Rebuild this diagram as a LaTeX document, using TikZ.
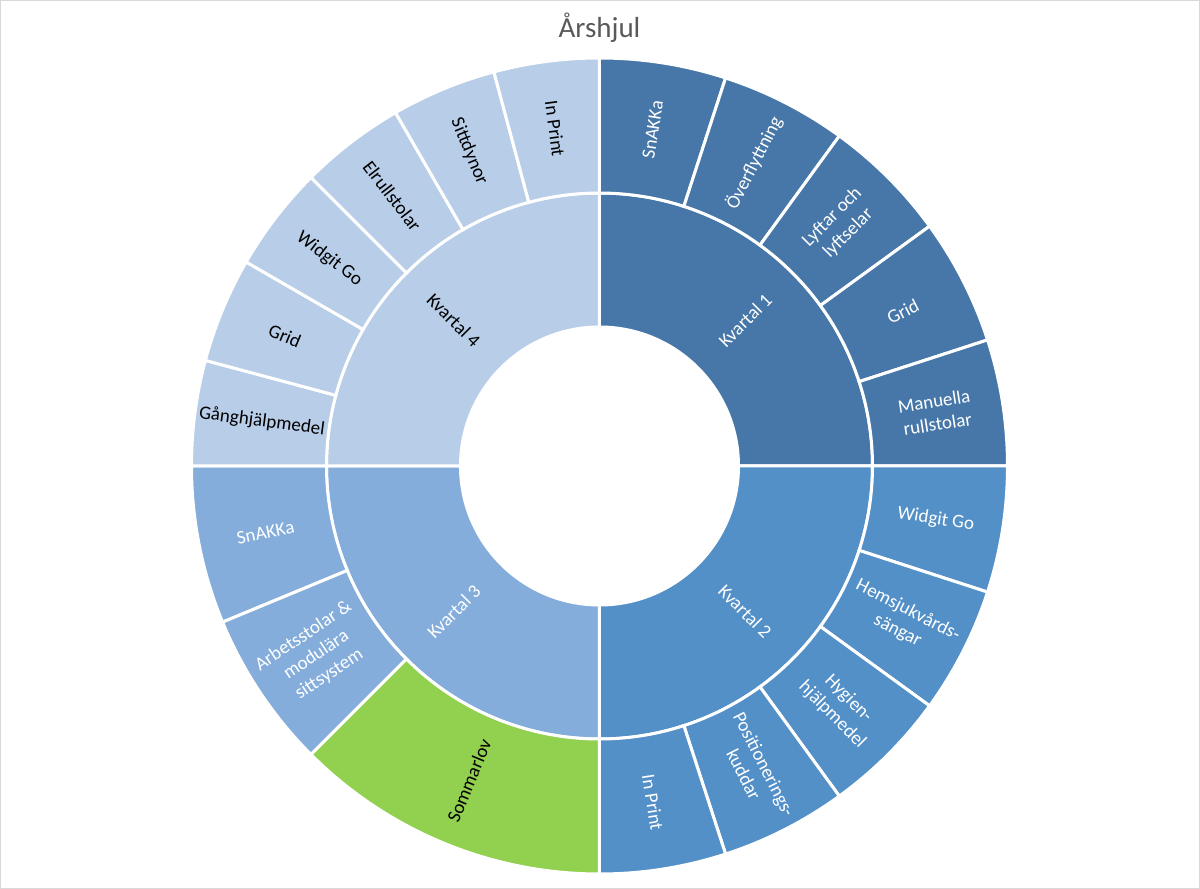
\documentclass[tikz,border=0pt]{standalone}
\usepackage{fontspec}
\setmainfont{Carlito}
\usepackage{tikz}
\usepackage{xcolor}
\definecolor{kvone}{HTML}{4677A8}
\definecolor{kvtwo}{HTML}{5490C8}
\definecolor{kvthree}{HTML}{84ADDB}
\definecolor{kvfour}{HTML}{B8CDE8}
\definecolor{summer}{HTML}{92D050}
\definecolor{titlegray}{HTML}{595959}
\definecolor{framegray}{HTML}{D9D9D9}
% one ring segment: name, start, end, inner r, outer r, fill, text style, label
\newcommand{\ringseg}[8]{%
 \filldraw[seg,fill=#6] (#2:#4pt) arc[start angle=#2,end angle=#3,radius=#4pt]
  -- (#3:#5pt) arc[start angle=#3,end angle=#2,radius=#5pt] -- cycle;
 \pgfmathsetmacro{\midang}{(#2+#3)/2}
 \pgfmathsetmacro{\midrad}{(#4+#5)/2}
 \pgfmathsetmacro{\lblrot}{cos(\midang)>=0 ? \midang : \midang-180}
 \node[lbl,#7,rotate=\lblrot] (#1) at (\midang:\midrad pt) {#8};
}

\begin{document}
\begin{tikzpicture}[
 x=1pt,y=1pt,
 seg/.style={draw=white,line width=3pt},
 lbl/.style={font=\fontsize{19}{23}\selectfont,align=center,inner sep=0pt}
]
\useasboundingbox (-599.5,-423) rectangle (600.5,466);
\draw[framegray,line width=1.5pt] (-598.75,-422.25) rectangle (599.75,465.25);
\node[font=\fontsize{29}{35}\selectfont,text=titlegray,anchor=base] (title) at (0,428) {Årshjul};
% inner ring
\ringseg{kv1}{0}{90}{139}{273}{kvone}{text=white}{Kvartal 1}
\ringseg{kv2}{-90}{0}{139}{273}{kvtwo}{text=white}{Kvartal 2}
\ringseg{kv3}{180}{270}{139}{273}{kvthree}{text=white}{Kvartal 3}
\ringseg{kv4}{90}{180}{139}{273}{kvfour}{text=black}{Kvartal 4}
% outer ring, kvartal 1
\ringseg{snakkaA}{72}{90}{273}{408}{kvone}{text=white}{SnAKKa}
\ringseg{overfl}{54}{72}{273}{408}{kvone}{text=white}{Överflyttning}
\ringseg{lyftar}{36}{54}{273}{408}{kvone}{text=white}{Lyftar och\\lyftselar}
\ringseg{gridA}{18}{36}{273}{408}{kvone}{text=white}{Grid}
\ringseg{manuella}{0}{18}{273}{408}{kvone}{text=white}{Manuella\\rullstolar}
% outer ring, kvartal 2
\ringseg{widgitA}{-18}{0}{273}{408}{kvtwo}{text=white}{Widgit Go}
\ringseg{hemsjuk}{-36}{-18}{273}{408}{kvtwo}{text=white}{Hemsjukvårds-\\sängar}
\ringseg{hygien}{-54}{-36}{273}{408}{kvtwo}{text=white}{Hygien-\\hjälpmedel}
\ringseg{position}{-72}{-54}{273}{408}{kvtwo}{text=white}{Positionerings-\\kuddar}
\ringseg{inprintA}{-90}{-72}{273}{408}{kvtwo}{text=white}{In Print}
% outer ring, kvartal 3
\ringseg{snakkaB}{180}{202.5}{273}{408}{kvthree}{text=white}{SnAKKa}
\ringseg{arbets}{202.5}{225}{273}{408}{kvthree}{text=white}{Arbetsstolar \&\\modulära\\sittsystem}
\ringseg{sommar}{225}{270}{273}{408}{summer}{text=black}{Sommarlov}
% outer ring, kvartal 4
\ringseg{gang}{165}{180}{273}{408}{kvfour}{text=black}{Gånghjälpmedel}
\ringseg{gridB}{150}{165}{273}{408}{kvfour}{text=black}{Grid}
\ringseg{widgitB}{135}{150}{273}{408}{kvfour}{text=black}{Widgit Go}
\ringseg{elrull}{120}{135}{273}{408}{kvfour}{text=black}{Elrullstolar}
\ringseg{sittd}{105}{120}{273}{408}{kvfour}{text=black}{Sittdynor}
\ringseg{inprintB}{90}{105}{273}{408}{kvfour}{text=black}{In Print}
\end{tikzpicture}
\end{document}
